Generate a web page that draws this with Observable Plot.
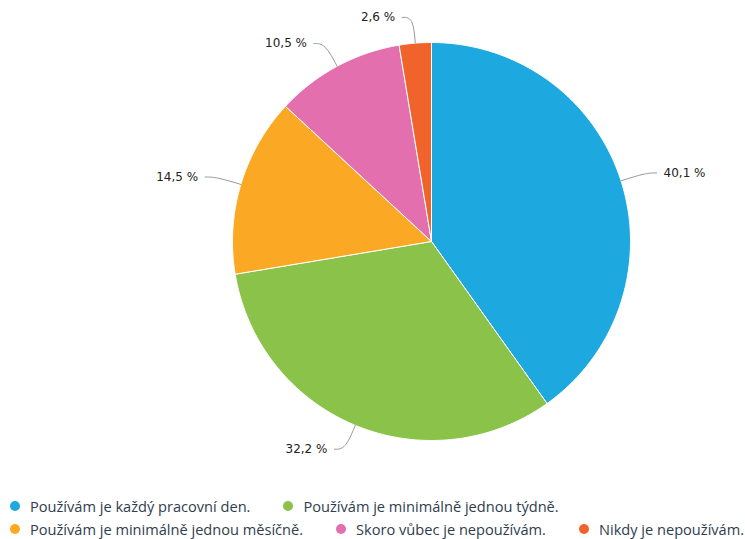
<!DOCTYPE html>
<html>
<head>
<meta charset="utf-8">
<script src="https://cdn.jsdelivr.net/npm/d3@7"></script>
<script src="https://cdn.jsdelivr.net/npm/@observablehq/plot@0.6"></script>
<style>
  html, body { margin: 0; padding: 0; background: #fff; }
  #chart { width: 745px; height: 496px; }
  #legend {
    display: flex; flex-wrap: wrap; width: 760px; box-sizing: border-box;
    padding-left: 10px;
    font-family: "Open Sans", sans-serif; font-size: 14.6px; color: #2f3d4f;
    row-gap: 3px;
  }
  .item { display: flex; align-items: center; white-space: nowrap; margin-right: 33px; height: 20px; }
  .item:last-child { margin-right: 0; }
  .dot { width: 10px; height: 10px; border-radius: 50%; margin-right: 10px; }
</style>
</head>
<body>
<div id="chart"></div>
<div id="legend"></div>
<script>
// Answers to "how often do you use it"
const categories = [
  "Používám je každý pracovní den.",
  "Používám je minimálně jednou týdně.",
  "Používám je minimálně jednou měsíčně.",
  "Skoro vůbec je nepoužívám.",
  "Nikdy je nepoužívám."
];
const shares = [40.1, 32.2, 14.5, 10.5, 2.6];
const labels = ["40,1 %", "32,2 %", "14,5 %", "10,5 %", "2,6 %"];
const colors = ["#1ea8e0", "#8bc34a", "#fba924", "#e46faf", "#f0642b"];

// Sector geometry in unit-circle coordinates (angle 0 at top, clockwise)
const arcs = d3.pie().sort(null).value(d => d)(shares);
const polar = (a, r) => ({x: r * Math.sin(a), y: r * Math.cos(a)});

const slices = [];
arcs.forEach((a, i) => {
  slices.push({key: i, ...polar(0, 0)});
  const n = Math.max(2, Math.ceil((a.endAngle - a.startAngle) / 0.01));
  for (let k = 0; k <= n; k++) {
    const t = a.startAngle + (a.endAngle - a.startAngle) * k / n;
    slices.push({key: i, ...polar(t, 1)});
  }
  slices.push({key: i, ...polar(0, 0)});
});

// Leader lines: edge of the pie -> elbow -> short horizontal run
const connectors = [];
const labelPts = [];
arcs.forEach((a, i) => {
  const mid = (a.startAngle + a.endAngle) / 2;
  const p0 = polar(mid, 1);
  const p1 = polar(mid, 1.13);
  const side = p1.x >= 0 ? 1 : -1;
  const p2 = {x: p1.x + side * 0.055, y: p1.y};
  connectors.push({key: i, ...p0}, {key: i, ...p1}, {key: i, ...p2});
  labelPts.push({x: p2.x + side * 0.035, y: p2.y, text: labels[i], anchor: side > 0 ? "start" : "end"});
});

const W = 745, H = 496, R = 199, cx = 431, cy = 241;

const plot = Plot.plot({
  width: W, height: H,
  margin: 0,
  x: {domain: [-cx / R, (W - cx) / R], axis: null},
  y: {domain: [-(H - cy) / R, cy / R], axis: null},
  style: {fontFamily: "DejaVu Sans, sans-serif"},
  marks: [
    Plot.line(slices, {x: "x", y: "y", z: "key", fill: d => colors[d.key], stroke: "#fff", strokeWidth: 1, curve: "linear"}),
    Plot.line(connectors, {x: "x", y: "y", z: "key", stroke: "#999", strokeWidth: 1, curve: "basis"}),
    Plot.text(labelPts.filter(d => d.anchor === "start"), {x: "x", y: "y", text: "text", textAnchor: "start", fontSize: 12, fill: "#222"}),
    Plot.text(labelPts.filter(d => d.anchor === "end"), {x: "x", y: "y", text: "text", textAnchor: "end", fontSize: 12, fill: "#222"})
  ]
});
document.getElementById("chart").appendChild(plot);

const legend = document.getElementById("legend");
categories.forEach((c, i) => {
  const item = document.createElement("div");
  item.className = "item";
  const dot = document.createElement("span");
  dot.className = "dot";
  dot.style.background = colors[i];
  const txt = document.createElement("span");
  txt.textContent = c;
  item.append(dot, txt);
  legend.appendChild(item);
});
</script>
</body>
</html>
